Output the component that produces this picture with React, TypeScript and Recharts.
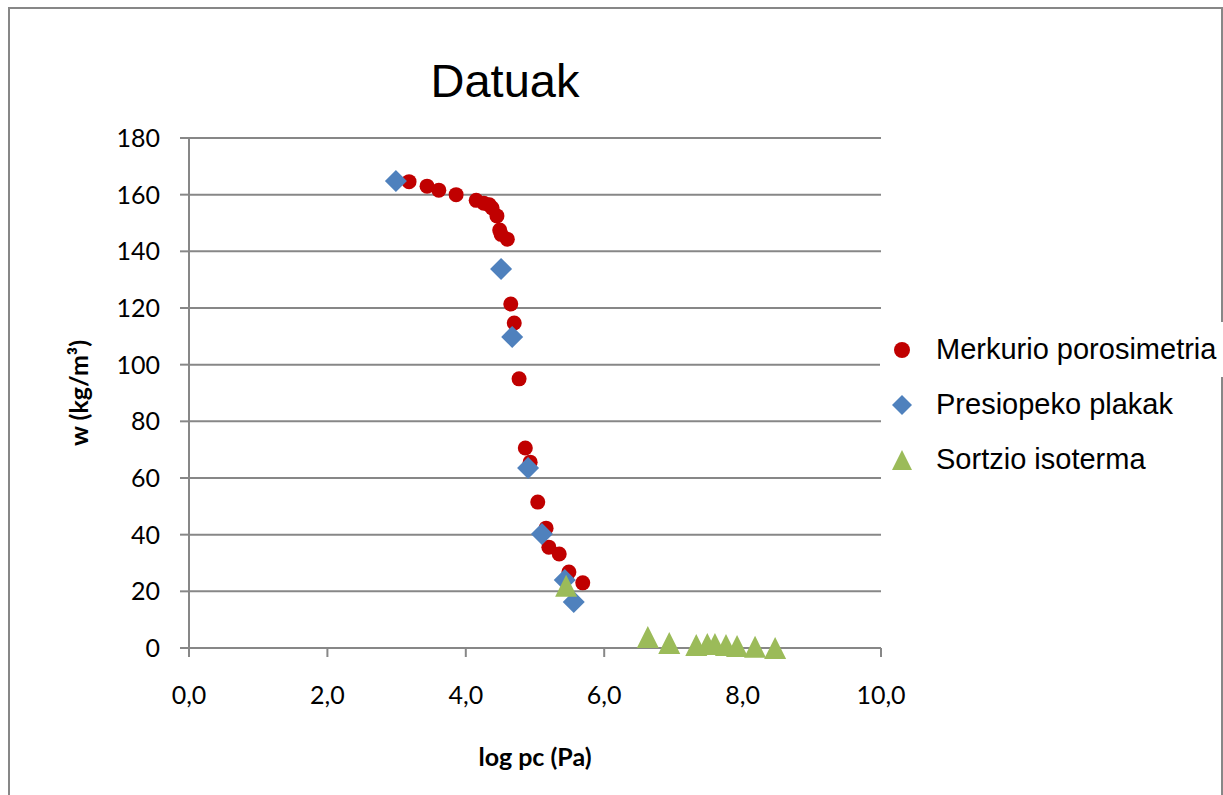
import React from 'react';
import { ScatterChart, Scatter, XAxis, YAxis, CartesianGrid } from 'recharts';

const seriesNames = ['Merkurio porosimetria', 'Presiopeko plakak', 'Sortzio isoterma'];
const seriesColors = ['#C00000', '#4F81BD', '#9BBB59'];

const merkurioX = [3.18, 3.44, 3.61, 3.86, 4.15, 4.26, 4.34, 4.38, 4.45, 4.49, 4.51, 4.6, 4.65, 4.7, 4.77, 4.86, 4.93, 5.04, 5.16, 5.2, 5.35, 5.49, 5.69];
const merkurioY = [164.6, 163, 161.6, 160, 158, 157, 156.4, 155.3, 152.5, 147.5, 146, 144.3, 121.4, 114.7, 95, 70.6, 65.6, 51.5, 42.3, 35.6, 33.2, 26.8, 23];

const plakakX = [2.99, 4.51, 4.67, 4.9, 5.1, 5.43, 5.56];
const plakakY = [164.8, 133.8, 109.8, 63.5, 40.2, 24, 16.2];

const isotermaX = [5.45, 6.63, 6.94, 7.33, 7.49, 7.6, 7.76, 7.92, 8.18, 8.47];
const isotermaY = [22, 3.9, 1.8, 1.1, 1.4, 1.4, 1.1, 0.7, 0.4, 0];

const xTicks = [0, 2, 4, 6, 8, 10];
const yTicks = [0, 20, 40, 60, 80, 100, 120, 140, 160, 180];

const titleText = 'Datuak';
const xTitle = 'log pc (Pa)';
const yTitle = 'w (kg/m³)';

const toPoints = (xs: number[], ys: number[]) => xs.map((x, i) => ({ x, y: ys[i] }));
const merkurioData = toPoints(merkurioX, merkurioY);
const plakakData = toPoints(plakakX, plakakY);
const isotermaData = toPoints(isotermaX, isotermaY);

const GRAY = '#878787';
const TICK_FONT = 'Lato, "Open Sans", sans-serif';
const ARIAL = '"Liberation Sans", Arial, sans-serif';

const CircleShape = (p: any) => <circle cx={p.cx} cy={p.cy} r={7.5} fill={seriesColors[0]} />;
const DiamondShape = (p: any) => {
  const s = 11;
  return <path d={`M${p.cx},${p.cy - s}L${p.cx + s},${p.cy}L${p.cx},${p.cy + s}L${p.cx - s},${p.cy}Z`} fill={seriesColors[1]} />;
};
const TriangleShape = (p: any) => {
  const h = 11;
  return <path d={`M${p.cx},${p.cy - h}L${p.cx + h},${p.cy + h}L${p.cx - h},${p.cy + h}Z`} fill={seriesColors[2]} />;
};

const LegendMarker = ({ i }: { i: number }) => {
  if (i === 0) return <svg width={24} height={24}><circle cx={12} cy={12} r={8} fill={seriesColors[0]} /></svg>;
  if (i === 1) return <svg width={24} height={24}><path d="M12,2L22,12L12,22L2,12Z" fill={seriesColors[1]} /></svg>;
  return <svg width={24} height={24}><path d="M12,2L22,22L2,22Z" fill={seriesColors[2]} /></svg>;
};

const LegendBlock = () => (
  <div style={{ position: 'absolute', left: 880, top: 322, width: 343 }}>
    {seriesNames.map((name, i) => (
      <div key={name} style={{ display: 'flex', alignItems: 'center', height: 55, background: i === 0 ? '#fff' : 'transparent' }}>
        <div style={{ width: 10 }} />
        <LegendMarker i={i} />
        <div style={{ width: 22 }} />
        <span style={{ fontFamily: ARIAL, fontSize: 29, color: '#000', whiteSpace: 'nowrap', lineHeight: '55px' }}>{name}</span>
      </div>
    ))}
  </div>
);

const fmt = (v: number) => v.toFixed(1).replace('.', ',');

export default function App() {
  return (
    <div style={{ position: 'absolute', left: 0, top: 0, width: 1223, height: 795, overflow: 'hidden', background: '#fff' }}>
      <div style={{ position: 'absolute', left: 8, top: 7, width: 1211, height: 820, border: `2px solid ${GRAY}` }} />
      <div style={{ position: 'absolute', left: 0, top: 0 }}>
        <ScatterChart width={1223} height={795} margin={{ top: 138, right: 342, bottom: 0, left: 89 }}>
          <CartesianGrid vertical={false} stroke={GRAY} strokeWidth={2} />
          <XAxis
            type="number"
            dataKey="x"
            domain={[0, 10]}
            ticks={xTicks}
            tickFormatter={fmt}
            height={147}
            stroke={GRAY}
            strokeWidth={2}
            tickSize={9}
            tickMargin={29}
            tick={{ fill: '#000', fontSize: 25, fontFamily: TICK_FONT }}
            label={{
              content: () => (
                <text x={535} y={766} textAnchor="middle" fontFamily={TICK_FONT} fontWeight="bold" fontSize={25} fill="#000">{xTitle}</text>
              ),
            }}
          />
          <YAxis
            type="number"
            dataKey="y"
            domain={[0, 180]}
            ticks={yTicks}
            width={100}
            stroke={GRAY}
            strokeWidth={2}
            tickSize={9}
            tickMargin={20}
            tick={{ fill: '#000', fontSize: 25, fontFamily: TICK_FONT }}
            label={{
              content: () => (
                <text x={88} y={393} transform="rotate(-90 88 393)" textAnchor="middle" fontFamily={TICK_FONT} fontWeight="bold" fontSize={25} fill="#000">{yTitle}</text>
              ),
            }}
          />
          <Scatter name={seriesNames[0]} data={merkurioData} fill={seriesColors[0]} shape={CircleShape} isAnimationActive={false} />
          <Scatter name={seriesNames[1]} data={plakakData} fill={seriesColors[1]} shape={DiamondShape} isAnimationActive={false} />
          <Scatter name={seriesNames[2]} data={isotermaData} fill={seriesColors[2]} shape={TriangleShape} isAnimationActive={false} />
        </ScatterChart>
      </div>
      <LegendBlock />
      <div style={{ position: 'absolute', left: 505, top: 54, transform: 'translateX(-50%)', fontFamily: ARIAL, fontSize: 47, color: '#000', whiteSpace: 'nowrap', lineHeight: '54px' }}>
        {titleText}
      </div>
    </div>
  );
}
